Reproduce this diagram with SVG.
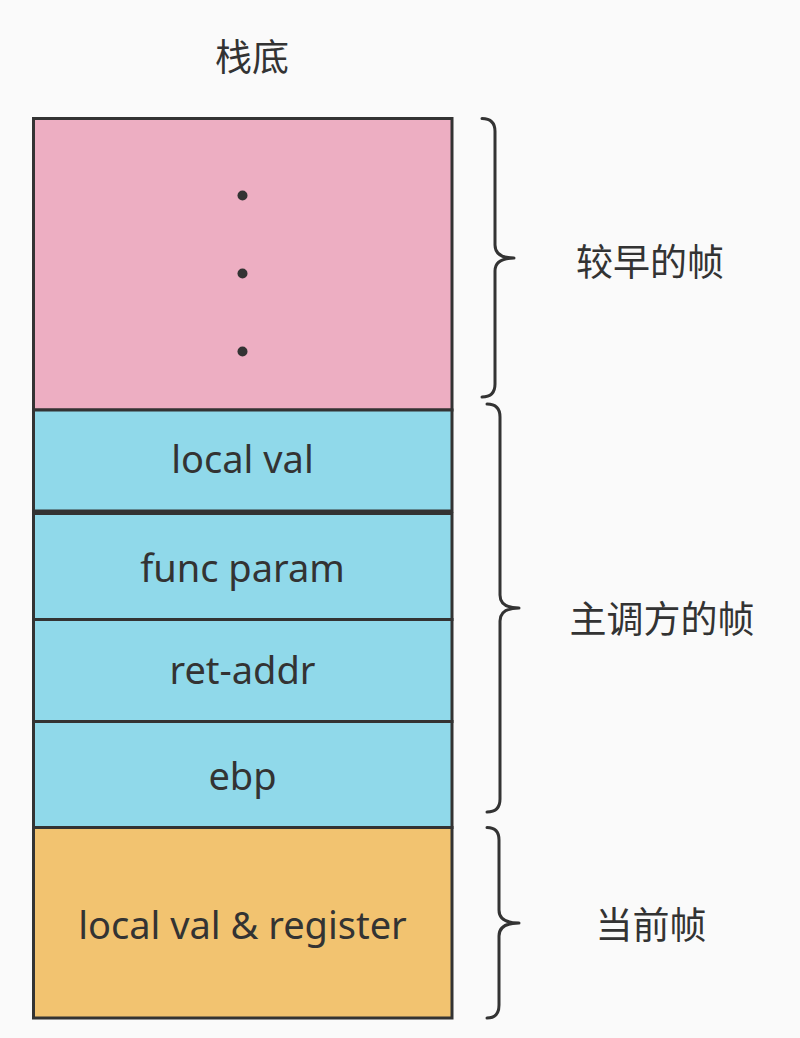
<svg xmlns="http://www.w3.org/2000/svg" width="800" height="1038" viewBox="0 0 800 1038">
<style>
.box{stroke:#333333;stroke-width:3}
.t{font-family:"Noto Sans","Open Sans","Liberation Sans",sans-serif;font-size:38px;fill:#333333;text-anchor:middle}
.c{font-family:"Noto Sans CJK SC","Noto Sans",sans-serif;font-size:37px;fill:#333333;text-anchor:middle}
.brace{fill:none;stroke:#333333;stroke-width:3;stroke-linecap:round;stroke-linejoin:round}
</style>
<rect width="800" height="1038" fill="#fafafa"/>
<text class="c" x="252" y="71">栈底</text>
<g id="earlier">
<rect class="box" x="33.5" y="118.5" width="418.5" height="291.5" fill="#edaec2"/>
<circle cx="242.5" cy="195.5" r="5" fill="#333333"/>
<circle cx="242.5" cy="273.5" r="5" fill="#333333"/>
<circle cx="242.5" cy="351.5" r="5" fill="#333333"/>
</g>
<g id="local-val">
<rect class="box" x="33.5" y="410" width="418.5" height="101" fill="#90d9ea"/>
<text class="t" x="242.5" y="473">local val</text>
</g>
<g id="func-param">
<rect class="box" x="33.5" y="513.5" width="418.5" height="106" fill="#90d9ea"/>
<text class="t" x="242.5" y="582">func param</text>
</g>
<g id="ret-addr">
<rect class="box" x="33.5" y="619.5" width="418.5" height="102" fill="#90d9ea"/>
<text class="t" x="242.5" y="684">ret-addr</text>
</g>
<g id="ebp">
<rect class="box" x="33.5" y="721.5" width="418.5" height="106" fill="#90d9ea"/>
<text class="t" x="242.5" y="790">ebp</text>
</g>
<g id="current">
<rect class="box" x="33.5" y="827.5" width="418.5" height="190.5" fill="#f2c370"/>
<text class="t" x="242.5" y="939">local val &amp; register</text>
</g>
<g id="connectors">
<path class="brace" d="M482,118.5 Q495,118.5 495,131.5 L495,245 Q495,258 514,258 Q495,258 495,271 L495,384 Q495,397 482,397"/>
<path class="brace" d="M487,404 Q500,404 500,417 L500,595 Q500,608 519,608 Q500,608 500,621 L500,799 Q500,812 487,812"/>
<path class="brace" d="M487,827.5 Q499,827.5 499,840 L499,910 Q499,923 519,923 Q499,923 499,936 L499,1005 Q499,1018 487,1018"/>
</g>
<g id="labels">
<text class="c" x="650" y="276">较早的帧</text>
<text class="c" x="662" y="633">主调方的帧</text>
<text class="c" x="651" y="939">当前帧</text>
</g>
</svg>
